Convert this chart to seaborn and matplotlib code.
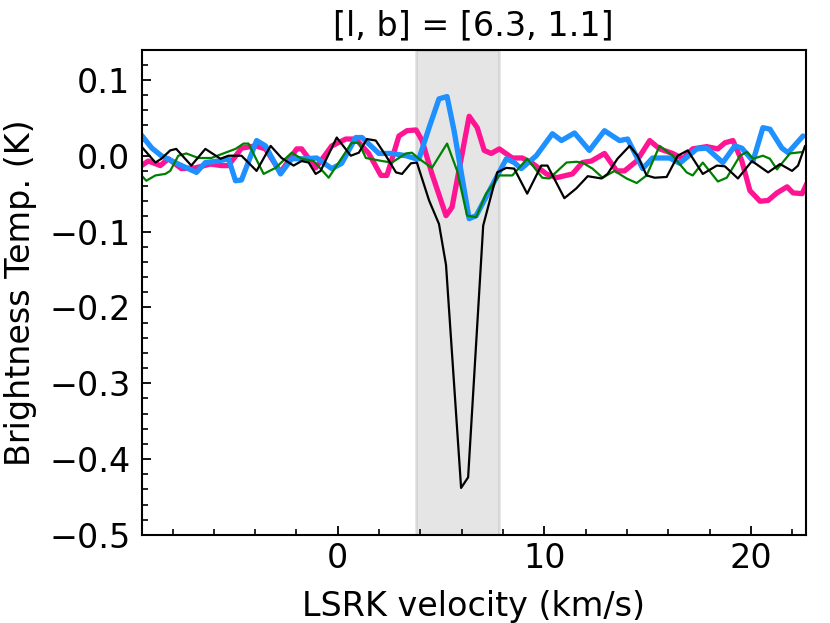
import numpy as np
import pandas as pd
import matplotlib
matplotlib.use("Agg")
import matplotlib.pyplot as plt
import seaborn as sns
from matplotlib.ticker import MultipleLocator

# ---- data ----
v_blue = [-9.5, -9.0, -8.54, -7.72, -6.84, -6.41, -5.78, -5.29, -4.95, -4.66, -3.93, -3.5,
          -2.77, -2.23, -1.55, -1.02, -0.29, 0.19, 0.87, 1.17, 1.99, 2.62, 3.3, 3.79, 3.93, 4.42,
          4.9, 5.29, 5.63, 6.36, 6.7, 7.48, 8.16, 8.54, 8.88, 9.61, 10.39, 10.83, 11.46, 12.18,
          12.91, 13.64, 14.03, 14.76, 15.24, 16.07, 16.55, 17.38, 17.86, 18.64, 19.22, 19.56,
          20.1, 20.58, 20.92, 21.5, 21.8, 22.52]
t_blue = [0.027, 0.010, 0.0, -0.011, -0.022, -0.009, -0.007, -0.004, -0.033, -0.032, 0.020, 0.013,
          -0.024, -0.004, -0.004, -0.003, -0.017, -0.010, 0.024, 0.024, 0.003, 0.003, 0.0, -0.004, -0.004, 0.037,
          0.075, 0.078, 0.033, -0.083, -0.079, -0.039, -0.004, -0.009, -0.017, 0.0, 0.029, 0.020, 0.030, 0.007,
          0.033, 0.020, 0.022, -0.017, -0.003, -0.003, -0.010, 0.009, 0.010, -0.009, 0.013, 0.010,
          -0.007, 0.037, 0.035, 0.010, 0.004, 0.026]

v_pink = [-9.5, -9.17, -8.59, -8.2, -7.57, -6.89, -6.17, -5.63, -5.29, -4.66, -3.98, -3.5,
          -2.77, -1.99, -1.75, -1.07, -0.29, 0.39, 0.87, 1.5, 2.09, 2.38, 2.96, 3.35, 3.79, 4.08,
          4.56, 5.24, 5.53, 6.36, 6.75, 7.09, 7.43, 7.82, 8.45, 8.93, 9.42, 10.1, 10.58, 11.36,
          11.84, 12.28, 12.91, 13.5, 13.88, 14.47, 15.1, 15.58, 16.21, 16.7, 17.18, 17.86, 18.4,
          18.74, 19.13, 19.56, 19.95, 20.44, 20.83, 21.26, 21.75, 22.04, 22.48, 22.7]
t_pink = [-0.013, -0.007, -0.013, -0.004, -0.017, -0.016, -0.011, -0.013, -0.013, 0.010, 0.013, 0.009,
          -0.022, 0.009, 0.009, -0.016, 0.013, 0.022, 0.022, 0.003, -0.026, -0.026, 0.026, 0.033, 0.034, 0.020,
          -0.024, -0.079, -0.068, 0.052, 0.037, 0.007, 0.003, 0.009, -0.003, -0.003, -0.010, -0.024, -0.029, -0.024,
          -0.009, -0.007, 0.003, -0.020, -0.020, -0.007, 0.020, 0.009, 0.003, -0.004, 0.009, 0.012, 0.009,
          0.017, 0.020, -0.007, -0.046, -0.060, -0.059, -0.049, -0.041, -0.049, -0.050, -0.037]

v_green = [-9.5, -9.27, -8.83, -8.35, -8.11, -7.72, -7.33, -6.75, -6.12, -5.44, -4.95, -4.56,
           -4.32, -3.59, -3.01, -2.23, -1.75, -1.17, -0.44, 0.19, 0.68, 1.02, 1.36, 2.14, 2.62, 3.3,
           3.59, 3.93, 4.56, 5.29, 5.78, 6.26, 6.7, 7.18, 7.82, 8.45, 9.17, 9.9, 10.24, 11.07, 11.55,
           11.84, 12.33, 12.82, 13.4, 13.98, 14.47, 14.95, 15.58, 16.21, 16.89, 17.18, 17.67, 18.4,
           18.83, 19.47, 19.81, 20.1, 20.58, 20.92, 21.26, 21.89, 22.52]
t_green = [-0.026, -0.033, -0.026, -0.024, -0.020, 0.0, 0.003, -0.003, -0.003, 0.004, 0.009, 0.016,
           0.016, -0.024, -0.016, 0.004, -0.004, -0.007, -0.029, -0.003, 0.017, 0.017, -0.003, -0.007, -0.009, 0.003,
           0.004, -0.004, -0.016, 0.016, -0.020, -0.079, -0.081, -0.050, -0.026, -0.026, -0.004, -0.029, -0.030, -0.009, -0.008,
           -0.009, -0.017, -0.029, -0.020, -0.030, -0.036, -0.026, 0.013, 0.0, -0.022, -0.026, -0.009, -0.034,
           -0.029, 0.0, 0.005, -0.004, 0.0, -0.004, -0.018, 0.003, 0.005]

v_black = [-9.5, -8.83, -8.54, -8.11, -7.82, -7.09, -6.41, -5.68, -5.29, -4.66, -3.93, -3.25,
           -2.72, -2.14, -1.75, -1.41, -1.07, -0.83, -0.05, 0.63, 1.02, 1.41, 1.84, 2.33, 2.82, 3.11,
           3.54, 3.83, 4.42, 4.9, 5.24, 5.97, 6.31, 7.04, 7.72, 8.16, 8.54, 9.17, 9.85, 10.15, 10.97,
           11.55, 12.1, 12.77, 13.06, 13.54, 14.13, 14.51, 14.95, 15.34, 15.92, 16.46, 16.94, 17.67,
           18.35, 18.74, 19.37, 20.05, 20.83, 21.41, 21.99, 22.28, 22.62]
t_black = [0.012, -0.009, -0.004, 0.007, 0.009, -0.013, 0.009, -0.004, 0.0, 0.0, -0.020, 0.013,
           -0.003, -0.013, -0.007, -0.009, -0.024, -0.020, 0.024, 0.0, 0.004, 0.022, 0.020, 0.0, -0.022, -0.024,
           -0.010, -0.009, -0.059, -0.090, -0.144, -0.438, -0.424, -0.092, -0.022, -0.016, -0.017, -0.050, -0.013, -0.013, -0.056,
           -0.043, -0.027, -0.030, -0.024, -0.004, 0.013, 0.0, -0.026, -0.029, -0.028, 0.0, 0.007, -0.024,
           -0.013, -0.014, -0.030, -0.007, -0.022, -0.011, -0.020, -0.013, 0.013]

span_lo, span_hi = 3.8, 7.8
title = "[l, b] = [6.3, 1.1]"

# ---- plot ----
sns.set_style("ticks")
plt.rcParams["font.family"] = ["DejaVu Sans"]
plt.rcParams["text.color"] = "black"
plt.rcParams["axes.labelcolor"] = "black"
plt.rcParams["xtick.color"] = "black"
plt.rcParams["ytick.color"] = "black"

fig = plt.figure(figsize=(8.3, 6.23), dpi=100)
ax = fig.add_axes([0.1705, 0.1413, 0.8002, 0.7792])

ax.axvspan(span_lo, span_hi, color="gray", alpha=0.2, lw=2, zorder=0)

series = [
    (v_pink, t_pink, "#FF1493", 3.8),
    (v_blue, t_blue, "#1E90FF", 3.8),
    (v_green, t_green, "green", 1.6),
    (v_black, t_black, "black", 1.6),
]
for v, t, c, lw in series:
    df = pd.DataFrame({"v": v, "t": t})
    sns.lineplot(data=df, x="v", y="t", ax=ax, color=c, lw=lw, sort=False, estimator=None)

ax.set_xlim(-9.5, 22.65)
ax.set_ylim(-0.5, 0.14)
ax.xaxis.set_major_locator(MultipleLocator(10))
ax.xaxis.set_minor_locator(MultipleLocator(2))
ax.yaxis.set_major_locator(MultipleLocator(0.1))
ax.yaxis.set_minor_locator(MultipleLocator(0.02))
ax.tick_params(which="both", direction="in", labelsize=24, colors="black")
ax.tick_params(which="major", length=6.5, width=1.3)
ax.tick_params(which="minor", length=4, width=1.2)
ax.tick_params(axis="y", which="major", pad=8)
ax.tick_params(axis="x", which="major", pad=5)
for s in ax.spines.values():
    s.set_linewidth(1.5)
    s.set_color("black")

ax.set_xlabel("LSRK velocity (km/s)", fontsize=24, color="black", labelpad=11)
ax.set_ylabel("Brightness Temp. (K)", fontsize=24, color="black", labelpad=9)
ax.set_title(title, fontsize=24, color="black", pad=10)

fig.savefig("out.png", dpi=100)
